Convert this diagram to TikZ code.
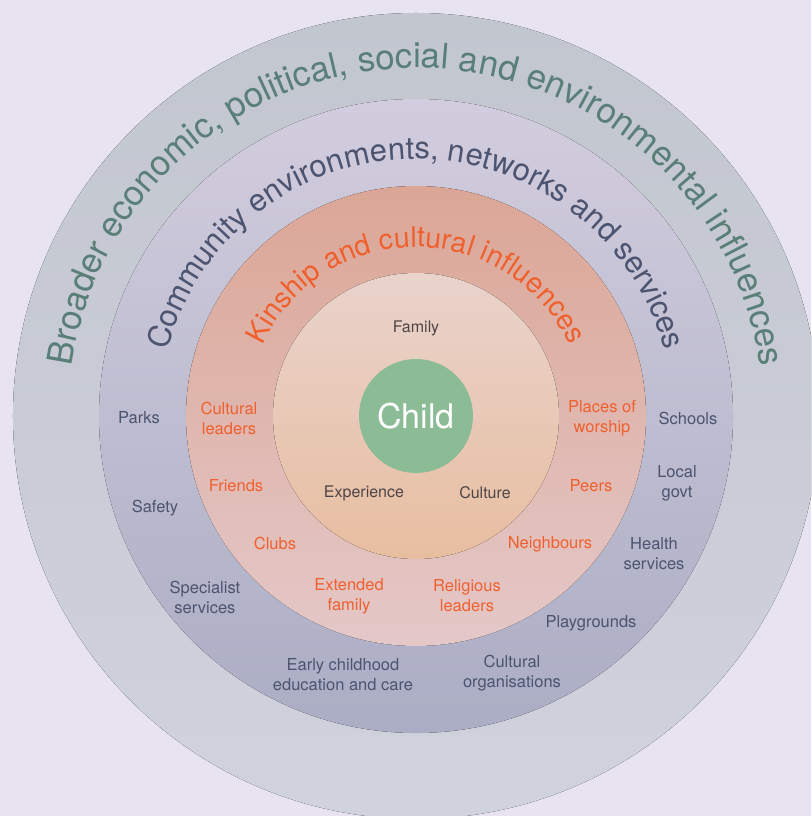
\documentclass[tikz,border=0pt]{standalone}
\usepackage{fontspec}
\setmainfont{TeX Gyre Heros}
\usetikzlibrary{decorations.text}
\definecolor{bg}{HTML}{E8E3F0}
\definecolor{ringAtop}{HTML}{C2C6CF}
\definecolor{ringAbot}{HTML}{D0D2DD}
\definecolor{ringBtop}{HTML}{D2CDDE}
\definecolor{ringBbot}{HTML}{ABADC4}
\definecolor{ringCtop}{HTML}{DBA696}
\definecolor{ringCbot}{HTML}{E4C8C8}
\definecolor{ringDtop}{HTML}{E9D3CC}
\definecolor{ringDbot}{HTML}{E8BEA0}
\definecolor{childc}{HTML}{8BBC96}
\definecolor{outertext}{HTML}{5A7F78}
\definecolor{commtext}{HTML}{4C5470}
\definecolor{kintext}{HTML}{F0602E}
\definecolor{famtext}{HTML}{4D4545}
\tikzset{
  commlab/.style={text=commtext, align=center, font=\fontsize{16.5}{20}\selectfont, inner sep=0pt},
  kinlab/.style={text=kintext, align=center, font=\fontsize{16.5}{20}\selectfont, inner sep=0pt},
  famlab/.style={text=famtext, align=center, font=\fontsize{16}{19}\selectfont, inner sep=0pt},
}
\begin{document}
\begin{tikzpicture}[x=1pt,y=1pt]
\useasboundingbox (-416,-400) rectangle (395,416);
\clip (-416,-400) rectangle (395,416);
\fill[bg] (-416,-400) rectangle (395,416);
% rings
\fill[top color=ringAtop, bottom color=ringAbot] (0,0) circle (403pt);
\fill[top color=ringBtop, bottom color=ringBbot] (0,0) circle (317pt);
\fill[top color=ringCtop, bottom color=ringCbot] (0,0) circle (230pt);
\fill[top color=ringDtop, bottom color=ringDbot] (0,0) circle (143pt);
\node[circle, fill=childc, minimum size=114pt, inner sep=0pt, text=white, font=\fontsize{34}{40}\selectfont] (child) at (0,0) {Child};
% curved titles
\path[decorate, decoration={text along path, text align=center,
  text={|\fontsize{35}{42}\selectfont\color{outertext}|Broader economic, political, social and environmental influences}}]
  (180:348pt) arc[start angle=180, end angle=0, radius=348pt];
\path[decorate, decoration={text along path, text align=center,
  text={|\fontsize{31}{37}\selectfont\color{commtext}|Community environments, networks and services}}]
  (180:257pt) arc[start angle=180, end angle=0, radius=257pt];
\path[decorate, decoration={text along path, text align=center,
  text={|\fontsize{28.5}{34}\selectfont\color{kintext}|Kinship and cultural influences}}]
  (180:169pt) arc[start angle=180, end angle=0, radius=169pt];
% inner labels
\node[famlab] (family) at (0,88) {Family};
\node[famlab] (experience) at (-52,-77) {Experience};
\node[famlab] (culture) at (69,-77) {Culture};
% kinship labels
\node[kinlab] (cleaders) at (-187,-2) {Cultural\\leaders};
\node[kinlab] (worship) at (186,-2) {Places of\\worship};
\node[kinlab] (friends) at (-180,-70) {Friends};
\node[kinlab] (peers) at (175,-70) {Peers};
\node[kinlab] (clubs) at (-141,-127) {Clubs};
\node[kinlab] (neighbours) at (134,-128) {Neighbours};
\node[kinlab] (extended) at (-67,-180) {Extended\\family};
\node[kinlab] (religious) at (51,-180) {Religious\\leaders};
% community labels
\node[commlab] (parks) at (-277,-2) {Parks};
\node[commlab] (schools) at (272,-2) {Schools};
\node[commlab] (safety) at (-261,-92) {Safety};
\node[commlab] (localgovt) at (261,-67) {Local\\govt};
\node[commlab] (specialist) at (-211,-181) {Specialist\\services};
\node[commlab] (health) at (238,-138) {Health\\services};
\node[commlab] (playgrounds) at (175,-207) {Playgrounds};
\node[commlab] (early) at (-73,-259) {Early childhood\\education and care};
\node[commlab] (culturg) at (96,-257) {Cultural\\organisations};
\end{tikzpicture}
\end{document}
